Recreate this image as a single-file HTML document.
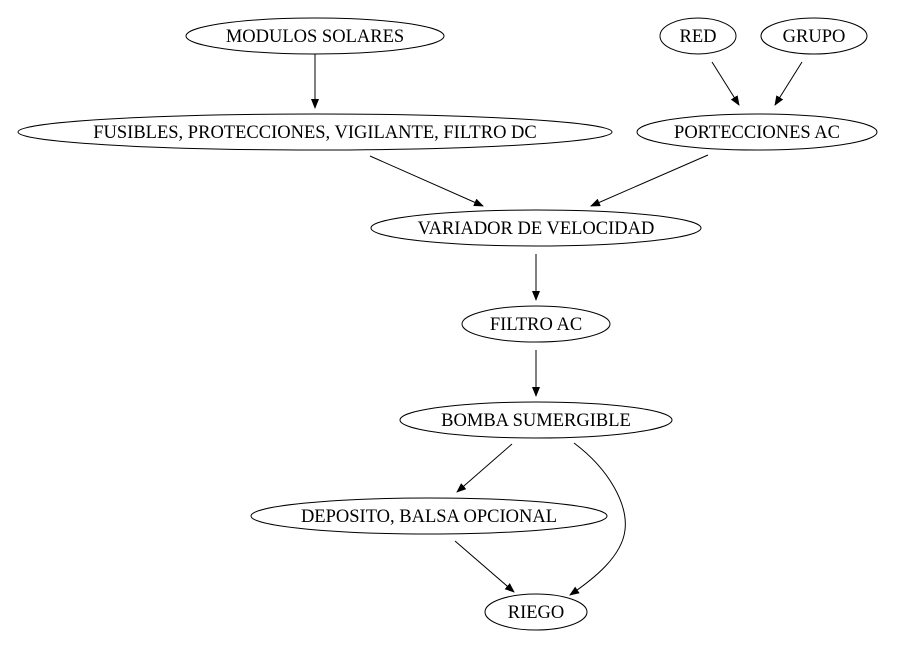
<!DOCTYPE html>
<html><head><meta charset="utf-8"><style>
html,body{margin:0;padding:0;background:#fff;}
svg{display:block;}
text{font-family:"Liberation Serif",serif;font-size:18.5px;fill:#000;}
</style></head><body>
<svg width="912" height="648" viewBox="0 0 912 648" xmlns="http://www.w3.org/2000/svg">
<defs>
<marker id="a" markerWidth="10" markerHeight="8" refX="9" refY="4" orient="auto" markerUnits="userSpaceOnUse">
<path d="M0,0 L10,4 L0,8 Z" fill="#000"/>
</marker>
</defs>
<g fill="none" stroke="#000" stroke-width="1">
<ellipse cx="315" cy="36" rx="129" ry="18"/>
<ellipse cx="698" cy="36" rx="38" ry="18"/>
<ellipse cx="814" cy="36" rx="53" ry="18"/>
<ellipse cx="315" cy="132" rx="297" ry="18"/>
<ellipse cx="757" cy="132" rx="120" ry="18"/>
<ellipse cx="536" cy="228" rx="165" ry="18"/>
<ellipse cx="536" cy="324" rx="74" ry="18"/>
<ellipse cx="536" cy="420" rx="136" ry="18"/>
<ellipse cx="429" cy="516" rx="178" ry="18"/>
<ellipse cx="536" cy="612" rx="51" ry="18"/>
<g marker-end="url(#a)">
<path d="M315,54 L315,108"/>
<path d="M712,62 L739,105"/>
<path d="M802,62 L775,105"/>
<path d="M370,156 L483,206"/>
<path d="M708,155 L591,206"/>
<path d="M536,254 L536,300"/>
<path d="M536,350 L536,396"/>
<path d="M512,444 L457,492"/>
<path d="M455,541 L514,592"/>
<path d="M574,443 C610,470 628,505 625,530 C622,556 595,578 570,595"/>
</g>
</g>
<g text-anchor="middle">
<text x="315" y="42">MODULOS SOLARES</text>
<text x="698" y="42">RED</text>
<text x="814" y="42">GRUPO</text>
<text x="315" y="138">FUSIBLES, PROTECCIONES, VIGILANTE, FILTRO DC</text>
<text x="757" y="138">PORTECCIONES AC</text>
<text x="536" y="234">VARIADOR DE VELOCIDAD</text>
<text x="536" y="330">FILTRO AC</text>
<text x="536" y="426">BOMBA SUMERGIBLE</text>
<text x="429" y="522">DEPOSITO, BALSA OPCIONAL</text>
<text x="536" y="618">RIEGO</text>
</g>
</svg>
</body></html>
